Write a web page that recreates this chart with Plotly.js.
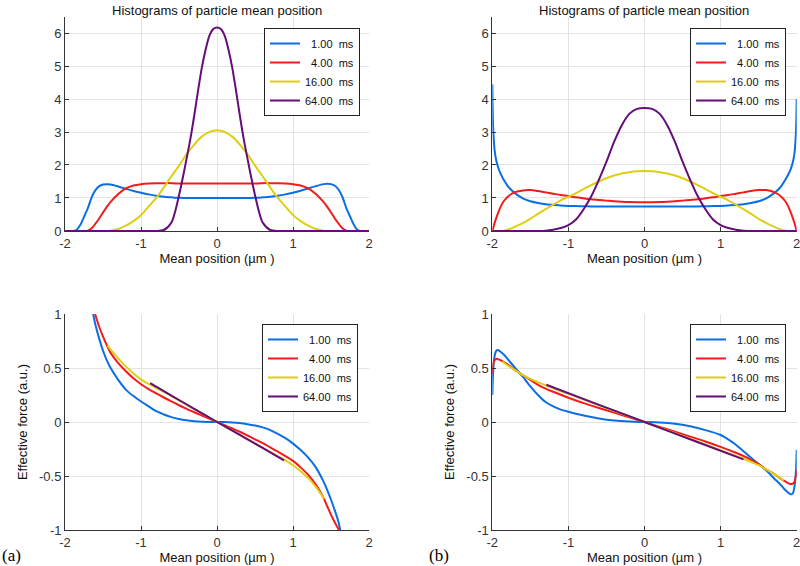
<!DOCTYPE html>
<html>
<head>
<meta charset="utf-8">
<script src="https://cdn.plot.ly/plotly-3.0.1.min.js"></script>
<style>
  html, body { margin: 0; padding: 0; background: #fff; }
  #myPlot { width: 800px; height: 566px; }
</style>
</head>
<body>
<div id="myPlot"></div>
<script>
// legend names, one per time step
const names = ["\u00a0\u00a01.00\u00a0\u00a0ms", "\u00a0\u00a04.00\u00a0\u00a0ms", "16.00\u00a0\u00a0ms", "64.00\u00a0\u00a0ms"];
const colors = ["#0b6fe3", "#f41b1b", "#dfcf12", "#650d78"];

// (a) histograms
const histAx = [-2, -1.9, -1.85, -1.8, -1.75, -1.7, -1.65, -1.6, -1.55, -1.5, -1.45, -1.4, -1.3, -1.2, -1.1, -1.0, -0.9, -0.8, -0.7, -0.6, -0.55, -0.5, -0.45, -0.4, -0.35, -0.3, -0.25, -0.2, -0.15, -0.1, -0.05, 0,
  0.05, 0.1, 0.15, 0.2, 0.25, 0.3, 0.35, 0.4, 0.45, 0.5, 0.55, 0.6, 0.7, 0.8, 0.9, 1.0, 1.1, 1.2, 1.3, 1.4, 1.45, 1.5, 1.55, 1.6, 1.65, 1.7, 1.75, 1.8, 1.85, 1.9, 2];
const histA1 = [0, 0, 0.03, 0.18, 0.43, 0.69, 1.02, 1.24, 1.36, 1.41, 1.42, 1.41, 1.35, 1.28, 1.21, 1.16, 1.11, 1.07, 1.04, 1.02, 1.01, 1.01, 1.0, 1.0, 1.0, 1.0, 1.0, 1.0, 1.0, 1.0, 1.0, 1.0,
  1.0, 1.0, 1.0, 1.0, 1.0, 1.0, 1.0, 1.0, 1.0, 1.01, 1.01, 1.02, 1.04, 1.07, 1.11, 1.16, 1.22, 1.29, 1.36, 1.42, 1.43, 1.42, 1.37, 1.25, 1.03, 0.7, 0.44, 0.19, 0.03, 0, 0];
const histA4 = [0, 0, 0, 0, 0, 0.01, 0.08, 0.22, 0.38, 0.56, 0.73, 0.88, 1.12, 1.29, 1.38, 1.42, 1.44, 1.45, 1.45, 1.45, 1.44, 1.44, 1.44, 1.44, 1.44, 1.44, 1.44, 1.44, 1.44, 1.44, 1.44, 1.44,
  1.44, 1.44, 1.44, 1.44, 1.44, 1.44, 1.44, 1.44, 1.44, 1.44, 1.44, 1.45, 1.45, 1.45, 1.44, 1.42, 1.38, 1.29, 1.12, 0.88, 0.73, 0.56, 0.38, 0.22, 0.08, 0.01, 0, 0, 0, 0, 0];
const histA16 = [0, 0, 0, 0, 0, 0, 0, 0, 0, 0, 0, 0.01, 0.06, 0.16, 0.3, 0.48, 0.74, 1.0, 1.32, 1.66, 1.82, 1.98, 2.16, 2.33, 2.48, 2.62, 2.75, 2.86, 2.94, 3.0, 3.04, 3.05,
  3.04, 3.0, 2.94, 2.86, 2.75, 2.62, 2.48, 2.33, 2.16, 1.98, 1.82, 1.66, 1.32, 1.0, 0.74, 0.48, 0.3, 0.16, 0.06, 0.01, 0, 0, 0, 0, 0, 0, 0, 0, 0, 0, 0];
const histA64 = [0, 0, 0, 0, 0, 0, 0, 0, 0, 0, 0, 0, 0, 0, 0, 0, 0, 0, 0.03, 0.26, 0.6, 1.08, 1.62, 2.2, 2.8, 3.5, 4.25, 4.95, 5.5, 5.92, 6.12, 6.17,
  6.12, 5.92, 5.5, 4.95, 4.25, 3.5, 2.8, 2.2, 1.62, 1.08, 0.6, 0.26, 0.03, 0, 0, 0, 0, 0, 0, 0, 0, 0, 0, 0, 0, 0, 0, 0, 0, 0, 0];

// (b) histograms
const histBx = [-2, -1.995, -1.99, -1.98, -1.97, -1.95, -1.92, -1.89, -1.85, -1.8, -1.75, -1.7, -1.6, -1.5, -1.4, -1.3, -1.2, -1.1, -1.0, -0.9, -0.8, -0.7, -0.6, -0.5, -0.4, -0.3, -0.2, -0.1, 0,
  0.1, 0.2, 0.3, 0.4, 0.5, 0.6, 0.7, 0.8, 0.9, 1.0, 1.1, 1.2, 1.3, 1.4, 1.5, 1.6, 1.7, 1.75, 1.8, 1.85, 1.89, 1.92, 1.95, 1.97, 1.98, 1.99, 1.995, 2];
const histB1 = [4.45, 3.7, 3.2, 2.75, 2.45, 2.15, 1.9, 1.73, 1.55, 1.37, 1.24, 1.14, 0.99, 0.9, 0.85, 0.81, 0.79, 0.77, 0.76, 0.755, 0.75, 0.745, 0.74, 0.74, 0.74, 0.74, 0.74, 0.74, 0.74,
  0.74, 0.74, 0.74, 0.74, 0.74, 0.74, 0.745, 0.75, 0.755, 0.76, 0.77, 0.79, 0.81, 0.85, 0.9, 0.99, 1.14, 1.24, 1.37, 1.55, 1.72, 1.87, 2.1, 2.35, 2.6, 3.0, 3.4, 4.0];
const histB4 = [0, 0.04, 0.08, 0.16, 0.24, 0.38, 0.57, 0.74, 0.9, 1.03, 1.12, 1.18, 1.23, 1.24, 1.21, 1.17, 1.13, 1.09, 1.06, 1.02, 0.99, 0.96, 0.94, 0.92, 0.9, 0.885, 0.875, 0.87, 0.87,
  0.87, 0.875, 0.885, 0.9, 0.92, 0.94, 0.96, 0.99, 1.02, 1.06, 1.09, 1.13, 1.17, 1.21, 1.24, 1.24, 1.18, 1.12, 1.03, 0.9, 0.74, 0.57, 0.38, 0.24, 0.16, 0.08, 0.04, 0];
const histB16 = [0, 0, 0, 0, 0, 0, 0, 0, 0.01, 0.04, 0.08, 0.13, 0.24, 0.37, 0.52, 0.66, 0.8, 0.93, 1.04, 1.15, 1.27, 1.39, 1.5, 1.6, 1.68, 1.74, 1.78, 1.81, 1.82,
  1.81, 1.78, 1.74, 1.68, 1.6, 1.5, 1.39, 1.27, 1.15, 1.04, 0.93, 0.8, 0.66, 0.52, 0.37, 0.24, 0.13, 0.08, 0.04, 0.01, 0, 0, 0, 0, 0, 0, 0, 0];
const histB64 = [0, 0, 0, 0, 0, 0, 0, 0, 0, 0, 0, 0, 0, 0, 0, 0.01, 0.04, 0.09, 0.18, 0.35, 0.66, 1.05, 1.55, 2.1, 2.7, 3.2, 3.55, 3.7, 3.73,
  3.7, 3.55, 3.2, 2.7, 2.1, 1.55, 1.05, 0.66, 0.35, 0.18, 0.09, 0.04, 0.01, 0, 0, 0, 0, 0, 0, 0, 0, 0, 0, 0, 0, 0, 0, 0];

// (a) effective force
const forceA1x = [-1.63, -1.6, -1.55, -1.5, -1.45, -1.4, -1.3, -1.2, -1.1, -1.0, -0.9, -0.8, -0.7, -0.6, -0.5, -0.4, -0.3, -0.2, -0.1, 0, 0.1, 0.2, 0.3, 0.4, 0.5, 0.6, 0.7, 0.8, 0.9, 1.0, 1.1, 1.2, 1.3, 1.4, 1.45, 1.5, 1.55, 1.6, 1.62];
const forceA1 = [1.0, 0.9, 0.77, 0.66, 0.57, 0.5, 0.39, 0.3, 0.24, 0.19, 0.145, 0.1, 0.07, 0.045, 0.028, 0.016, 0.008, 0.003, 0.001, 0, -0.001, -0.004, -0.01, -0.02, -0.033, -0.05, -0.075, -0.11, -0.15, -0.2, -0.26, -0.33, -0.42, -0.55, -0.63, -0.72, -0.82, -0.93, -1.0];
const forceA4x = [-1.605, -1.55, -1.5, -1.45, -1.4, -1.3, -1.2, -1.1, -1.0, -0.9, -0.8, -0.7, -0.6, -0.5, -0.4, -0.3, -0.2, -0.1, 0, 0.1, 0.2, 0.3, 0.4, 0.5, 0.6, 0.7, 0.8, 0.9, 1.0, 1.1, 1.2, 1.3, 1.4, 1.45, 1.5, 1.55, 1.605];
const forceA4 = [1.0, 0.88, 0.79, 0.71, 0.64, 0.545, 0.47, 0.405, 0.35, 0.305, 0.265, 0.227, 0.19, 0.155, 0.122, 0.09, 0.06, 0.03, 0, -0.03, -0.06, -0.09, -0.125, -0.16, -0.195, -0.235, -0.275, -0.315, -0.36, -0.42, -0.49, -0.58, -0.7, -0.78, -0.86, -0.93, -1.0];
const forceA16x = [-1.44, -1.4, -1.3, -1.2, -1.1, -1.0, -0.9, -0.8, -0.6, -0.4, -0.2, 0, 0.2, 0.4, 0.6, 0.8, 0.9, 1.0, 1.1, 1.2, 1.3, 1.41];
const forceA16 = [0.71, 0.67, 0.59, 0.515, 0.45, 0.395, 0.352, 0.315, 0.24, 0.16, 0.08, 0, -0.08, -0.16, -0.24, -0.315, -0.355, -0.4, -0.455, -0.52, -0.6, -0.71];
const forceA64x = [-0.88, -0.6, -0.3, 0, 0.3, 0.6, 0.88];
const forceA64 = [0.36, 0.245, 0.122, 0, -0.12, -0.24, -0.355];

// (b) effective force
const forceB1x = [-2, -1.99, -1.98, -1.96, -1.94, -1.92, -1.9, -1.85, -1.8, -1.7, -1.6, -1.5, -1.4, -1.3, -1.2, -1.1, -1.0, -0.8, -0.6, -0.4, -0.2, 0, 0.2, 0.4, 0.6, 0.8, 1.0, 1.1, 1.2, 1.3, 1.4, 1.5, 1.6, 1.7, 1.8, 1.85, 1.9, 1.93, 1.95, 1.97, 1.99, 2];
const forceB1 = [0.25, 0.45, 0.56, 0.64, 0.665, 0.665, 0.655, 0.625, 0.585, 0.5, 0.42, 0.33, 0.25, 0.185, 0.145, 0.115, 0.095, 0.06, 0.033, 0.014, 0.004, 0, -0.004, -0.016, -0.04, -0.075, -0.12, -0.16, -0.21, -0.27, -0.33, -0.39, -0.45, -0.52, -0.59, -0.63, -0.66, -0.67, -0.66, -0.6, -0.45, -0.26];
const forceB4x = [-2, -1.99, -1.98, -1.96, -1.94, -1.92, -1.9, -1.85, -1.8, -1.7, -1.6, -1.5, -1.4, -1.3, -1.2, -1.0, -0.8, -0.6, -0.4, -0.2, 0, 0.2, 0.4, 0.6, 0.8, 1.0, 1.2, 1.3, 1.4, 1.5, 1.6, 1.7, 1.8, 1.85, 1.9, 1.93, 1.96, 1.98, 1.99, 2];
const forceB4 = [0.45, 0.52, 0.56, 0.58, 0.585, 0.58, 0.575, 0.555, 0.535, 0.48, 0.435, 0.39, 0.345, 0.31, 0.28, 0.225, 0.175, 0.13, 0.087, 0.043, 0, -0.045, -0.09, -0.135, -0.18, -0.23, -0.285, -0.315, -0.35, -0.39, -0.44, -0.48, -0.53, -0.55, -0.57, -0.575, -0.565, -0.53, -0.5, -0.45];
const forceB16x = [-1.87, -1.8, -1.7, -1.6, -1.5, -1.4, -1.3, -1.0, -0.5, 0, 0.5, 1.0, 1.3, 1.4, 1.5, 1.6, 1.7, 1.83];
const forceB16 = [0.56, 0.525, 0.48, 0.435, 0.4, 0.37, 0.34, 0.26, 0.13, 0, -0.13, -0.26, -0.34, -0.37, -0.4, -0.44, -0.48, -0.54];
const forceB64x = [-1.29, -0.65, 0, 0.65, 1.3];
const forceB64 = [0.345, 0.173, 0, -0.173, -0.346];

const panels = [
  { xa: "x", ya: "y", leg: "legend", xs: [histAx, histAx, histAx, histAx], ys: [histA1, histA4, histA16, histA64] },
  { xa: "x2", ya: "y2", leg: "legend2", xs: [histBx, histBx, histBx, histBx], ys: [histB1, histB4, histB16, histB64] },
  { xa: "x3", ya: "y3", leg: "legend3", xs: [forceA1x, forceA4x, forceA16x, forceA64x], ys: [forceA1, forceA4, forceA16, forceA64] },
  { xa: "x4", ya: "y4", leg: "legend4", xs: [forceB1x, forceB4x, forceB16x, forceB64x], ys: [forceB1, forceB4, forceB16, forceB64] }
];

const data = [];
panels.forEach(p => {
  for (let i = 0; i < 4; i++) {
    data.push({
      x: p.xs[i], y: p.ys[i],
      xaxis: p.xa, yaxis: p.ya, legend: p.leg,
      name: names[i], mode: "lines", type: "scatter",
      line: { color: colors[i], width: 2, shape: "spline", smoothing: 0.8 }
    });
  }
});

const font = "Liberation Sans, Arial, sans-serif";
const ink = "#333333";
const xTicks = [-2, -1, 0, 1, 2];
const xTickText = ["-2", "-1", "0", "1", "2"];
const histTicks = [0, 1, 2, 3, 4, 5, 6];
const forceTicks = [-1, -0.5, 0, 0.5, 1];
const forceTickText = ["-1", "-0.5", "0", "0.5", "1"];

function xAxis(domain, anchor) {
  return {
    domain: domain, anchor: anchor, range: [-2, 2],
    tickvals: xTicks, ticktext: xTickText, ticklabeloverflow: "allow",
    showgrid: true, gridcolor: "#e3e3e3", zeroline: false,
    showline: true, linecolor: ink, linewidth: 1,
    ticks: "inside", ticklen: 4, tickcolor: ink,
    tickfont: { family: font, size: 13, color: ink },
    title: { text: "Mean position (\u00b5m )", font: { family: font, size: 13, color: "#111" }, standoff: 0 }
  };
}
function yAxis(domain, anchor, range, vals, text, title) {
  return {
    domain: domain, anchor: anchor, range: range,
    tickvals: vals, ticktext: text,
    showgrid: true, gridcolor: "#e3e3e3", zeroline: false,
    showline: true, linecolor: ink, linewidth: 1,
    ticks: "inside", ticklen: 4, tickcolor: ink,
    tickfont: { family: font, size: 13, color: ink },
    title: { text: title, font: { family: font, size: 13, color: "#111" }, standoff: 8 }
  };
}
function legendBox(x, y) {
  return {
    x: x, y: y, xanchor: "left", yanchor: "top",
    bgcolor: "#ffffff", bordercolor: "#222", borderwidth: 1,
    font: { family: font, size: 11, color: "#111" },
    tracegroupgap: 0
  };
}

const leftX = [0.0813, 0.4613];
const rightX = [0.6154, 0.9959];
const topY = [0.5919, 0.9708];
const botY = [0.0636, 0.4452];
const titleFont = { family: font, size: 13, color: "#111" };
const tagFont = { family: "Liberation Serif, Times New Roman, serif", size: 17, color: "#000" };

const layout = {
  width: 800, height: 566,
  margin: { l: 0, r: 0, t: 0, b: 0 },
  paper_bgcolor: "#ffffff", plot_bgcolor: "#ffffff",
  font: { family: font },
  xaxis: xAxis(leftX, "y"),
  yaxis: yAxis(topY, "x", [0, 6.5], histTicks, histTicks.map(String), ""),
  xaxis2: xAxis(rightX, "y2"),
  yaxis2: yAxis(topY, "x2", [0, 6.5], histTicks, histTicks.map(String), ""),
  xaxis3: xAxis(leftX, "y3"),
  yaxis3: yAxis(botY, "x3", [-1, 1], forceTicks, forceTickText, "Effective force (a.u.)"),
  xaxis4: xAxis(rightX, "y4"),
  yaxis4: yAxis(botY, "x4", [-1, 1], forceTicks, forceTickText, "Effective force (a.u.)"),
  legend: legendBox(0.33, 0.9505),
  legend2: legendBox(0.8625, 0.9505),
  legend3: legendBox(0.3275, 0.4276),
  legend4: legendBox(0.8625, 0.4276),
  annotations: [
    { text: "Histograms of particle mean position", xref: "paper", yref: "paper", x: 0.2713, y: 1, xanchor: "center", yanchor: "top", yshift: -1, showarrow: false, font: titleFont },
    { text: "Histograms of particle mean position", xref: "paper", yref: "paper", x: 0.8056, y: 1, xanchor: "center", yanchor: "top", yshift: -1, showarrow: false, font: titleFont },
    { text: "(a)", xref: "paper", yref: "paper", x: 0, y: 0.0177, xanchor: "left", yanchor: "middle", showarrow: false, font: tagFont },
    { text: "(b)", xref: "paper", yref: "paper", x: 0.534, y: 0.0177, xanchor: "left", yanchor: "middle", showarrow: false, font: tagFont }
  ],
  showlegend: true
};

Plotly.newPlot("myPlot", data, layout, { staticPlot: true, displayModeBar: false });
</script>
</body>
</html>
